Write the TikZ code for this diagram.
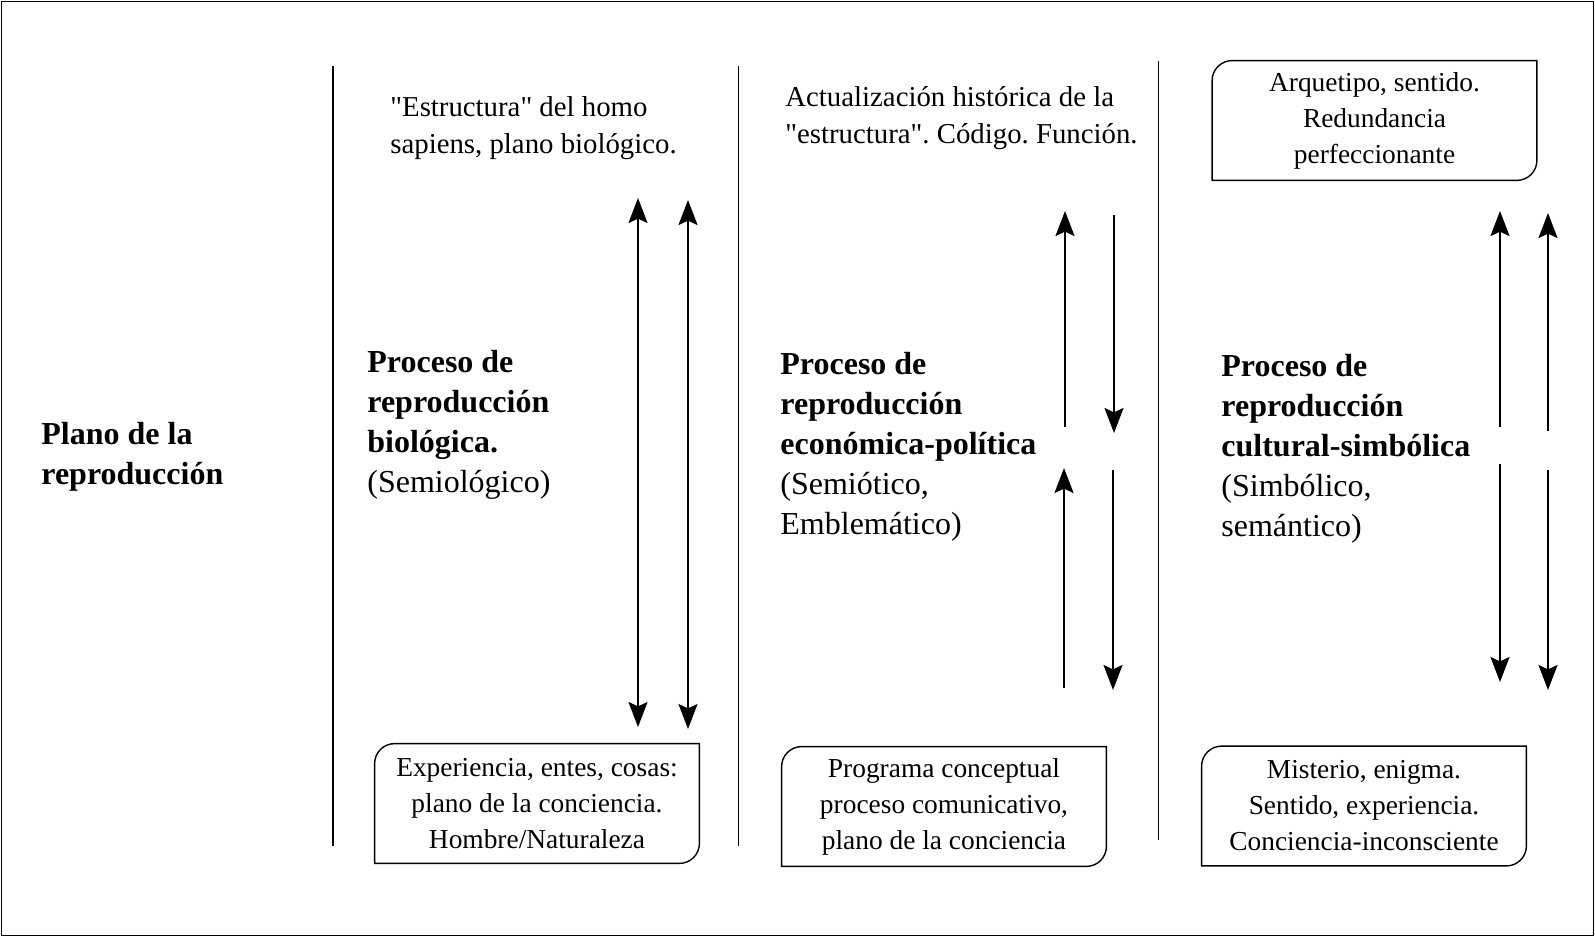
\documentclass[tikz,border=0pt]{standalone}
\usepackage{fontspec}
\setmainfont{Liberation Serif}
\usetikzlibrary{arrows.meta}
\frenchspacing
\newcommand{\halfroundframe}[1]{%
  \draw[boxline] (#1.south west) -- ([yshift=-10pt]#1.north west)
    arc[start angle=180,end angle=90,radius=10pt] -- (#1.north east)
    -- ([yshift=10pt]#1.south east)
    arc[start angle=0,end angle=-90,radius=10pt] -- cycle;}
\begin{document}
\begin{tikzpicture}[x=0.5pt,y=-0.5pt,
  big/.style={inner sep=0pt,anchor=west,align=left,font=\fontsize{16}{20}\selectfont},
  toptext/.style={inner sep=0pt,anchor=west,align=left,font=\fontsize{14.4}{18.5}\selectfont},
  boxtext/.style={inner sep=0pt,align=center,minimum width=162pt,minimum height=59.5pt,font=\fontsize{13.7}{18}\selectfont},
  boxline/.style={line width=0.7pt},
  sep/.style={line width=0.8pt},
  tip/.tip={Stealth[length=12.5pt,width=9.5pt,inset=2.2pt]},
  arr/.style={line width=1pt,-tip},
  darr/.style={line width=1pt,tip-tip}]
\useasboundingbox (0,0) rectangle (1595,938);
\draw[line width=0.8pt] (1.5,1.5) rectangle (1593.5,935.5);
% separators
\coordinate (s1t) at (333,66); \coordinate (s1b) at (333,846);
\coordinate (s2t) at (738.5,66); \coordinate (s2b) at (738.5,846);
\coordinate (s3t) at (1158.6,61); \coordinate (s3b) at (1158.6,840);
\draw[sep] (s1t) -- (s1b);
\draw[sep] (s2t) -- (s2b);
\draw[sep] (s3t) -- (s3b);
% left label
\node[big] (plano) at (41,457) {\textbf{Plano de la}\\\textbf{reproducción}};
% column texts
\node[toptext] (t1) at (390,128) {\textquotedbl Estructura\textquotedbl{} del homo\\sapiens, plano biológico.};
\node[toptext] (t2) at (785,118) {Actualización histórica de la\\\textquotedbl estructura\textquotedbl. Código. Función.};
\node[big] (p1) at (367,425) {\textbf{Proceso de}\\\textbf{reproducción}\\\textbf{biológica.}\\(Semiológico)};
\node[big] (p2) at (780,446.5) {\textbf{Proceso de}\\\textbf{reproducción}\\\textbf{económica-política}\\(Semiótico,\\Emblemático)};
\node[big] (p3) at (1221,449) {\textbf{Proceso de}\\\textbf{reproducción}\\\textbf{cultural-simbólica}\\(Simbólico,\\semántico)};
% boxes
\node[boxtext] (b1) at (537,803.5) {Experiencia, entes, cosas:\\plano de la conciencia.\\Hombre/Naturaleza};
\node[boxtext] (b2) at (944,806.5) {Programa conceptual\\proceso comunicativo,\\plano de la conciencia};
\node[boxtext] (b3) at (1374.5,120.5) {Arquetipo, sentido.\\Redundancia\\perfeccionante};
\node[boxtext] (b4) at (1364,806) {Misterio, enigma.\\Sentido, experiencia.\\Conciencia-inconsciente};
\halfroundframe{b1}
\halfroundframe{b2}
\halfroundframe{b3}
\halfroundframe{b4}
% arrows column 1
\coordinate (a1t) at (638,198); \coordinate (a1b) at (638,727);
\coordinate (a2t) at (688,200); \coordinate (a2b) at (688,729);
\draw[darr] (a1t) -- (a1b);
\draw[darr] (a2t) -- (a2b);
% arrows column 2
\coordinate (c2a0) at (1065,427); \coordinate (c2a1) at (1065,211);
\coordinate (c2b0) at (1114,215); \coordinate (c2b1) at (1114,433);
\coordinate (c2c0) at (1064,688); \coordinate (c2c1) at (1064,468);
\coordinate (c2d0) at (1113,470); \coordinate (c2d1) at (1113,690);
\draw[arr] (c2a0) -- (c2a1);
\draw[arr] (c2b0) -- (c2b1);
\draw[arr] (c2c0) -- (c2c1);
\draw[arr] (c2d0) -- (c2d1);
% arrows column 3
\coordinate (c3a0) at (1500,427); \coordinate (c3a1) at (1500,211);
\coordinate (c3b0) at (1500,464); \coordinate (c3b1) at (1500,682);
\coordinate (c3c0) at (1548,431); \coordinate (c3c1) at (1548,213);
\coordinate (c3d0) at (1548,470); \coordinate (c3d1) at (1548,690);
\draw[arr] (c3a0) -- (c3a1);
\draw[arr] (c3b0) -- (c3b1);
\draw[arr] (c3c0) -- (c3c1);
\draw[arr] (c3d0) -- (c3d1);
\end{tikzpicture}
\end{document}
